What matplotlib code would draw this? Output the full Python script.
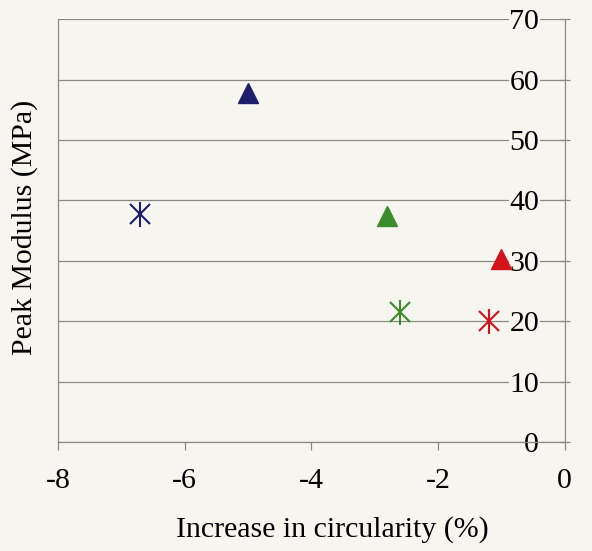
import matplotlib
matplotlib.use("Agg")
import matplotlib.pyplot as plt

plt.rcParams["font.family"] = ["Liberation Serif", "DejaVu Serif"]
plt.rcParams["axes.unicode_minus"] = False

# Values
groups = ["blue", "green", "red"]
colors = ["#1d1f6c", "#3a8c2c", "#d3121c"]
triangle_x = [-5.0, -2.8, -1.0]
triangle_y = [57.8, 37.5, 30.3]
star_x = [-6.7, -2.6, -1.2]
star_y = [37.8, 21.5, 20.0]

x_ticks = [-8, -6, -4, -2, 0]
y_ticks = [0, 10, 20, 30, 40, 50, 60, 70]

bg = "#f6f5ef"
line_col = "#8a8a80"

fig = plt.figure(figsize=(5.92, 5.51), dpi=100, facecolor=bg)
ax = fig.add_axes([0.098, 0.198, 0.856, 0.767], facecolor=bg)

ax.set_xlim(-8, 0)
ax.set_ylim(0, 70)

# gridlines (the top one doubles as the frame edge)
ax.set_yticks(y_ticks)
ax.set_xticks(x_ticks)
ax.yaxis.grid(True, color=line_col, linewidth=0.9)
ax.set_axisbelow(True)

for side in ["left", "right", "bottom"]:
    ax.spines[side].set_color(line_col)
    ax.spines[side].set_linewidth(0.9)
ax.spines["top"].set_visible(False)

# y axis sits at x = 0 on the right, labels drawn inside the plot
ax.yaxis.tick_right()
ax.tick_params(axis="y", direction="inout", length=7, width=0.9, color=line_col,
               pad=-22, labelsize=21.5)
for lab in ax.get_yticklabels():
    lab.set_horizontalalignment("right")
    lab.set_bbox(dict(facecolor=bg, edgecolor="none", pad=0.5))

ax.tick_params(axis="x", direction="out", length=6, width=0.9, color=line_col,
               pad=13, labelsize=21.5)

for i in range(len(groups)):
    ax.plot(triangle_x[i], triangle_y[i], marker="^", markersize=15,
            color=colors[i], linestyle="none", zorder=5, clip_on=False)
    ax.plot(star_x[i], star_y[i], marker="x", markersize=15, markeredgewidth=1.5,
            color=colors[i], linestyle="none", zorder=5)
    ax.plot(star_x[i], star_y[i], marker="|", markersize=18, markeredgewidth=1.5,
            color=colors[i], linestyle="none", zorder=5)

fig.text(332 / 592, 1 - 530 / 551, "Increase in circularity (%)",
         ha="center", va="center", fontsize=21.5)
fig.text(25 / 592, 1 - 227 / 551, "Peak Modulus (MPa)", rotation=90,
         ha="center", va="center", fontsize=21.5)

fig.savefig("out.png", dpi=100, facecolor=bg)
